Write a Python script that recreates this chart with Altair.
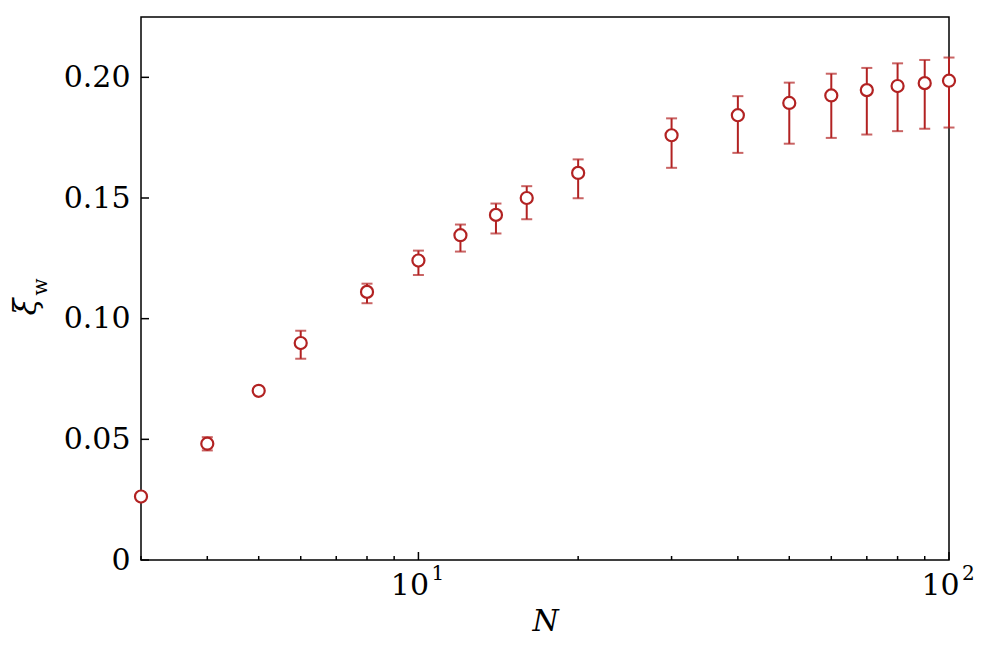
import altair as alt
import pandas as pd

# ---- data ----
N = [3, 4, 5, 6, 8, 10, 12, 14, 16, 20, 30, 40, 50, 60, 70, 80, 90, 100]
xi = [0.0263, 0.0482, 0.0701, 0.0899, 0.1111, 0.1241, 0.1346, 0.1430, 0.1500,
      0.1604, 0.1760, 0.1843, 0.1894, 0.1925, 0.1947, 0.1964, 0.1976, 0.1986]
upper = [0.0275, 0.0509, 0.0712, 0.0950, 0.1145, 0.1282, 0.1390, 0.1477, 0.1549,
         0.1660, 0.1830, 0.1922, 0.1978, 0.2015, 0.2039, 0.2058, 0.2072, 0.2082]
lower = [0.0251, 0.0454, 0.0690, 0.0834, 0.1064, 0.1181, 0.1278, 0.1353, 0.1412,
         0.1499, 0.1625, 0.1687, 0.1725, 0.1749, 0.1763, 0.1777, 0.1787, 0.1792]
minor_ticks = [3, 4, 5, 6, 7, 8, 9, 20, 30, 40, 50, 60, 70, 80, 90]
major_ticks = [10, 100]
major_exponents = ["1", "2"]
y_ticks = [0, 0.05, 0.10, 0.15, 0.20]

df = pd.DataFrame({"N": N, "xi": xi, "hi": upper, "lo": lower})

COLOR = "#b22222"
FONT = "DejaVu Serif"
W, H = 808, 543

xscale = alt.Scale(type="log", domain=[3, 100], nice=False)
yscale = alt.Scale(domain=[0, 0.225], nice=False, zero=False)

x_axis = alt.Axis(
    values=major_ticks,
    labelExpr="'10'",
    ticks=False,
    domain=False,
    labelPadding=10,
    labelOffset=-9,
    labelFlush=False,
    labelFont=FONT,
    labelFontSize=30,
    title="N",
    titleFont=FONT,
    titleFontStyle="italic",
    titleFontWeight="normal",
    titleFontSize=30,
    titlePadding=6,
)
y_axis = alt.Axis(
    values=y_ticks,
    labelExpr="datum.value == 0 ? '0' : format(datum.value, '.2f')",
    ticks=False,
    domain=False,
    labelPadding=11,
    labelFlush=False,
    labelFont=FONT,
    labelFontSize=30,
    title=None,
)

# tick marks (inward), placed through the scales
x_major = alt.Chart(pd.DataFrame({"v": major_ticks})).mark_rule(
    color="black", strokeWidth=1.5
).encode(
    x=alt.X("v:Q", scale=xscale, axis=x_axis),
    y=alt.value(H), y2=alt.value(H - 8),
)
x_minor = alt.Chart(pd.DataFrame({"v": minor_ticks})).mark_rule(
    color="black", strokeWidth=1.5
).encode(
    x=alt.X("v:Q", scale=xscale, axis=x_axis),
    y=alt.value(H), y2=alt.value(H - 4),
)
y_tk = alt.Chart(pd.DataFrame({"v": y_ticks})).mark_rule(
    color="black", strokeWidth=1.5
).encode(
    y=alt.Y("v:Q", scale=yscale, axis=y_axis),
    x=alt.value(0), x2=alt.value(8),
)
# exponents of the decade labels (10^1, 10^2)
x_exp = alt.Chart(pd.DataFrame({"v": major_ticks, "e": major_exponents})).mark_text(
    font=FONT, fontSize=20, color="black", align="left", baseline="middle", dx=13
).encode(
    x=alt.X("v:Q", scale=xscale, axis=x_axis),
    y=alt.value(H + 14),
    text="e:N",
)

base = alt.Chart(df)
X = alt.X("N:Q", scale=xscale, axis=x_axis)

rules = base.mark_rule(color=COLOR, strokeWidth=2).encode(
    x=X,
    y=alt.Y("lo:Q", scale=yscale, axis=y_axis),
    y2="hi:Q",
)
caps_hi = base.mark_tick(color=COLOR, orient="horizontal", size=11, thickness=2).encode(
    x=X,
    y=alt.Y("hi:Q", scale=yscale, axis=y_axis),
)
caps_lo = base.mark_tick(color=COLOR, orient="horizontal", size=11, thickness=2).encode(
    x=X,
    y=alt.Y("lo:Q", scale=yscale, axis=y_axis),
)
points = base.mark_point(shape="circle", filled=True, fill="white", stroke=COLOR,
                         strokeWidth=2.2, size=145, opacity=1).encode(
    x=X,
    y=alt.Y("xi:Q", scale=yscale, axis=y_axis),
)

title_xi = alt.Chart(pd.DataFrame({"t": ["\u03be"]})).mark_text(
    angle=270, font=FONT, fontStyle="italic", fontSize=31, color="black",
    align="center", baseline="middle",
).encode(x=alt.value(-114), y=alt.value(290), text="t:N")
title_w = alt.Chart(pd.DataFrame({"t": ["w"]})).mark_text(
    angle=270, font=FONT, fontSize=20, color="black",
    align="center", baseline="middle",
).encode(x=alt.value(-100), y=alt.value(270), text="t:N")

chart = alt.layer(
    x_major, x_minor, y_tk, x_exp, rules, caps_hi, caps_lo, points, title_xi, title_w
).properties(
    width=W,
    height=H,
    autosize=alt.AutoSizeParams(type="none"),
    padding={"left": 133, "top": 9, "right": 39, "bottom": 98},
).configure_view(
    stroke="black", strokeWidth=1.5
).configure_axis(
    labelColor="black", grid=False, titleColor="black",
)

chart.save("out.html", embed_options={"renderer": "svg", "actions": False})
